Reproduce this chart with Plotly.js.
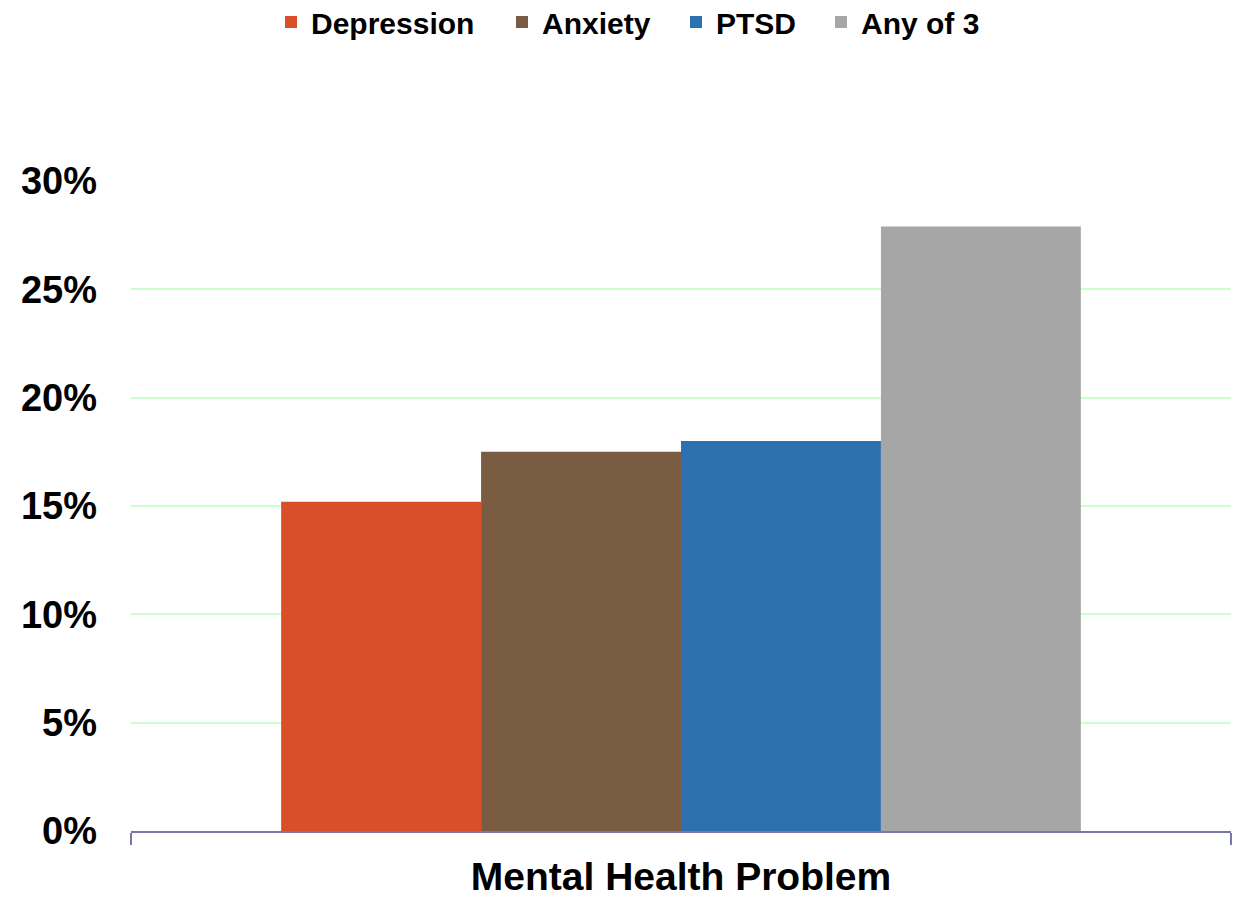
<!DOCTYPE html>
<html>
<head>
<meta charset="utf-8">
<script src="https://cdn.plot.ly/plotly-3.0.1.min.js"></script>
<style>html,body{margin:0;padding:0;background:#fff;}#chart{width:1241px;height:898px;}</style>
</head>
<body>
<div id="chart"></div>
<script>
const category = ["Mental Health Problem"];
const seriesNames = ["Depression", "Anxiety", "PTSD", "Any of 3"];
const seriesValues = [[0.152], [0.175], [0.180], [0.279]];
const seriesColors = ["#D84F29", "#7A5C43", "#2C70B0", "#A6A6A6"];
const yTickVals = [0, 0.05, 0.10, 0.15, 0.20, 0.25, 0.30];

const FONT = "Liberation Sans, Arial, sans-serif";
const W = 1241, H = 898;
const M = {l: 131, r: 10, t: 181, b: 67};

// legend entry text start positions (px) in the picture
const legendTextX = [311, 542, 716, 861];
const legendCenterY = 22;

const legendIds = ["legend", "legend2", "legend3", "legend4"];

const traces = seriesNames.map((name, i) => ({
  type: "bar",
  name: name,
  x: category,
  y: seriesValues[i],
  marker: {color: seriesColors[i]},
  legend: legendIds[i],
  hoverinfo: "skip"
}));

const layout = {
  width: W,
  height: H,
  margin: {l: M.l, r: M.r, t: M.t, b: M.b, pad: 0},
  paper_bgcolor: "#ffffff",
  plot_bgcolor: "#ffffff",
  font: {family: FONT, color: "#000000", weight: 700},
  barmode: "group",
  bargap: 0.273,
  bargroupgap: 0,
  showlegend: true,
  xaxis: {
    type: "category",
    showticklabels: false,
    ticks: "outside",
    tickson: "boundaries",
    ticklen: 12,
    tickwidth: 2,
    tickcolor: "#7777AA",
    showline: true,
    linecolor: "#7777AA",
    linewidth: 2,
    showgrid: false,
    zeroline: false,
    title: {
      text: "Mental Health Problem",
      font: {family: FONT, size: 39, color: "#000000", weight: 700},
      standoff: 32
    },
    automargin: false,
    fixedrange: true
  },
  yaxis: {
    range: [0, 0.30],
    tickvals: yTickVals,
    tickformat: ".0%",
    tickfont: {family: FONT, size: 38, color: "#000000", weight: 700},
    ticklabelstandoff: 33,
    showgrid: true,
    gridcolor: "#CCFFCC",
    gridwidth: 2,
    zeroline: false,
    showline: false,
    ticks: "",
    automargin: false,
    fixedrange: true
  }
};

legendIds.forEach((id, i) => {
  layout[id] = {
    orientation: "h",
    x: (legendTextX[i] - 40) / W, xanchor: "left", xref: "container",
    y: 1 - legendCenterY / H, yanchor: "middle", yref: "container",
    font: {family: FONT, size: 30, color: "#000000", weight: 700},
    bgcolor: "rgba(0,0,0,0)",
    borderwidth: 0
  };
});

Plotly.newPlot("chart", traces, layout, {displayModeBar: false, staticPlot: true});
</script>
</body>
</html>
